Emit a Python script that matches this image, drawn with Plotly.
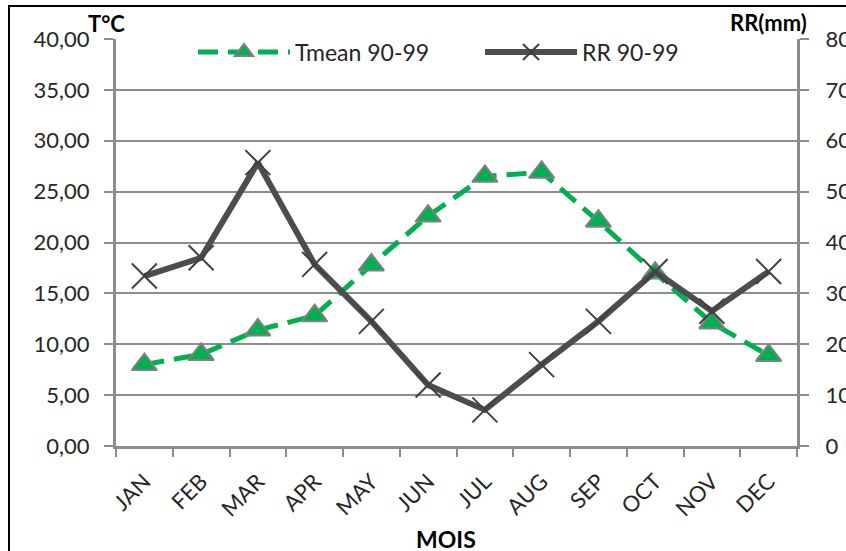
import plotly.graph_objects as go

# Monthly climate normals, 1990-1999
months = ["JAN", "FEB", "MAR", "APR", "MAY", "JUN", "JUL", "AUG", "SEP", "OCT", "NOV", "DEC"]
tmean = [8.0, 9.0, 11.4, 12.8, 17.8, 22.6, 26.5, 26.9, 22.1, 17.0, 12.1, 8.9]
rr = [33.4, 37.0, 55.7, 35.7, 24.5, 12.0, 7.1, 16.0, 24.5, 34.3, 26.5, 34.3]

temp_ticks = [0, 5, 10, 15, 20, 25, 30, 35, 40]
temp_ticktext = ["0,00", "5,00", "10,00", "15,00", "20,00", "25,00", "30,00", "35,00", "40,00"]
rain_ticks = [0, 10, 20, 30, 40, 50, 60, 70, 80]
rain_ticktext = ["0", "10", "20", "30", "40", "50", "60", "70", "80"]

FONT = "Lato"
TXT = "#262626"
GRID = "#8c8c8c"

fig = go.Figure()

fig.add_trace(go.Scatter(
    x=months, y=tmean, name="Tmean 90-99", mode="lines+markers",
    line=dict(color="#00b050", width=5, dash="20px,10px"),
    marker=dict(symbol="triangle-up", size=22, color="#00b050",
                line=dict(color="#808080", width=2)),
    yaxis="y",
))
fig.add_trace(go.Scatter(
    x=months, y=rr, name="RR 90-99", mode="lines+markers",
    line=dict(color="#4d4d4d", width=6),
    marker=dict(symbol="x-thin", size=25, color="#404040",
                line=dict(color="#404040", width=2)),
    yaxis="y2",
))

W, H = 846, 551
L, R, T, B = 116, 49, 39, 105
pw, ph = W - L - R, H - T - B


def px_x(x):
    return (x - L) / pw


def px_y(y):
    return (H - B - y) / ph


fig.update_layout(
    width=W, height=H,
    margin=dict(l=L, r=R, t=T, b=B, autoexpand=False),
    paper_bgcolor="white", plot_bgcolor="white",
    font=dict(family=FONT, size=22, color=TXT),
    showlegend=True,
    legend=dict(orientation="h", x=px_x(193), y=px_y(52), yanchor="middle",
                xanchor="left", bgcolor="rgba(0,0,0,0)", itemwidth=92,
                entrywidth=180, entrywidthmode="pixels",
                font=dict(family=FONT, size=23, color=TXT), tracegroupgap=0),
    xaxis=dict(
        type="category", showgrid=False, showline=True, linecolor=GRID, linewidth=3,
        ticks="outside", ticklen=8, tickcolor=GRID, tickwidth=2,
        tickson="boundaries", tickangle=-45, automargin=False,
        tickfont=dict(family=FONT, size=22, color=TXT),
        ticklabelstandoff=11,
        range=[-0.5, 11.5],
    ),
    yaxis=dict(
        range=[0, 40], tickvals=temp_ticks, ticktext=temp_ticktext,
        showgrid=True, gridcolor=GRID, gridwidth=2,
        showline=True, linecolor=GRID, linewidth=3,
        ticks="outside", ticklen=9, tickcolor=GRID, tickwidth=2,
        tickfont=dict(family=FONT, size=22, color=TXT), zeroline=False,
        ticklabelstandoff=10, automargin=False,
    ),
    yaxis2=dict(
        range=[0, 80], tickvals=rain_ticks, ticktext=rain_ticktext,
        overlaying="y", side="right", showgrid=False,
        showline=True, linecolor=GRID, linewidth=3,
        ticks="outside", ticklen=9, tickcolor=GRID, tickwidth=2,
        tickfont=dict(family=FONT, size=22, color=TXT), zeroline=False,
        ticklabelstandoff=12, automargin=False,
    ),
)

# Axis titles
fig.add_annotation(text="<b>MOIS</b>", xref="paper", yref="paper",
                   x=px_x(446), y=px_y(539), xanchor="center", yanchor="middle",
                   showarrow=False, font=dict(family=FONT, size=23, color="#000"))
fig.add_annotation(text="<b>T°C</b>", xref="paper", yref="paper",
                   x=px_x(86), y=px_y(24), xanchor="left", yanchor="middle",
                   showarrow=False, font=dict(family=FONT, size=22, color="#000"))
fig.add_annotation(text="<b>RR(mm)</b>", xref="paper", yref="paper",
                   x=px_x(809), y=px_y(23), xanchor="right", yanchor="middle",
                   showarrow=False, font=dict(family=FONT, size=22, color="#000"))

# Chart frame
fig.add_shape(type="rect", xref="paper", yref="paper",
              x0=px_x(9), y0=px_y(600), x1=px_x(900), y1=px_y(6),
              line=dict(color="#000", width=2), fillcolor="rgba(0,0,0,0)", layer="below")

fig.write_html("out.html")
